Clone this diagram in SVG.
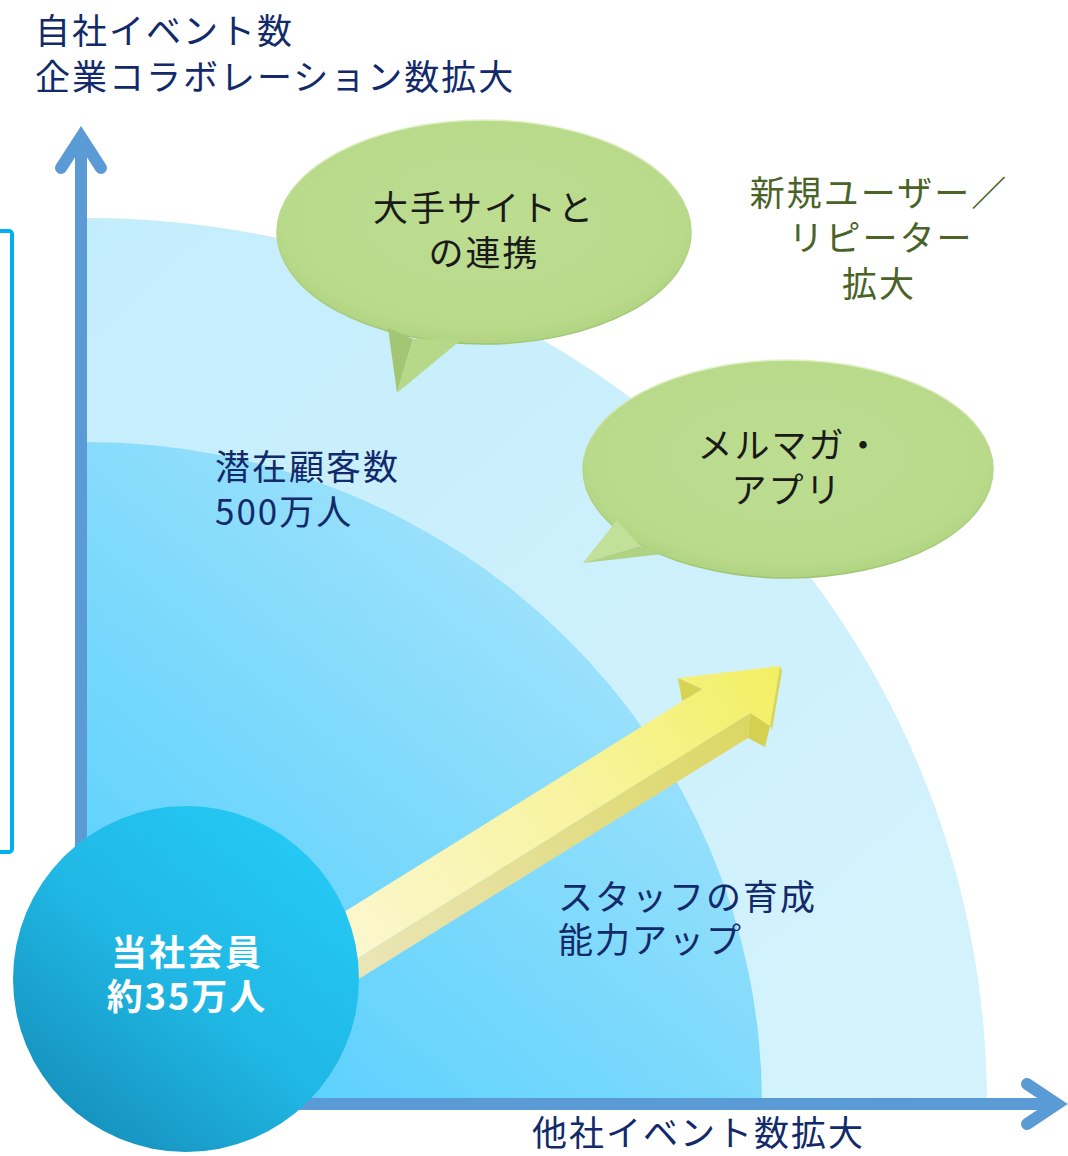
<svg xmlns="http://www.w3.org/2000/svg" width="1068" height="1156" viewBox="0 0 1068 1156">
<defs>
<linearGradient id="gLarge" gradientUnits="userSpaceOnUse" x1="87" y1="218" x2="900" y2="1104">
<stop offset="0" stop-color="#c4edfc"/><stop offset="1" stop-color="#d4f3fc"/>
</linearGradient>
<linearGradient id="gMed" gradientUnits="userSpaceOnUse" x1="100" y1="1100" x2="620" y2="480">
<stop offset="0" stop-color="#4ccdfd"/><stop offset="1" stop-color="#ace5fb"/>
</linearGradient>
<linearGradient id="gCircle" x1="0.85" y1="0.1" x2="0.15" y2="0.95">
<stop offset="0" stop-color="#24c9f4"/><stop offset="0.5" stop-color="#20b7e4"/><stop offset="1" stop-color="#158fba"/>
</linearGradient>
<radialGradient id="gBubble" cx="0.5" cy="0.45" r="0.6">
<stop offset="0" stop-color="#bddd91"/><stop offset="0.8" stop-color="#b8da8a"/><stop offset="1" stop-color="#abcf7d"/>
</radialGradient>
<linearGradient id="gRim" x1="0" y1="0" x2="0" y2="1">
<stop offset="0" stop-color="#e2f2c6"/><stop offset="0.5" stop-color="#b4d787"/><stop offset="1" stop-color="#a0c471"/>
</linearGradient>
<linearGradient id="gTop" gradientUnits="userSpaceOnUse" x1="330" y1="960" x2="780" y2="670">
<stop offset="0" stop-color="#fbf7d2"/><stop offset="0.6" stop-color="#f7f39a"/><stop offset="1" stop-color="#f3ef62"/>
</linearGradient>
<linearGradient id="gSide" gradientUnits="userSpaceOnUse" x1="330" y1="990" x2="760" y2="730">
<stop offset="0" stop-color="#ebe6bd"/><stop offset="1" stop-color="#dcd762"/>
</linearGradient>
<style>
.axis{fill:none;stroke:#5b9bd5;stroke-width:12;stroke-linecap:round;stroke-linejoin:miter}
.navy{font-family:"Noto Sans CJK JP","Noto Sans",sans-serif;font-size:35px;fill:#132a6a;letter-spacing:2px}
.green{font-family:"Noto Sans CJK JP","Noto Sans",sans-serif;font-size:35px;fill:#4a6326;letter-spacing:2px;text-anchor:middle}
.blk{font-family:"Noto Sans CJK JP","Noto Sans",sans-serif;font-size:35px;fill:#1a1a1a;letter-spacing:2px;text-anchor:middle}
.wht{font-family:"Noto Sans CJK JP","Noto Sans",sans-serif;font-size:36px;font-weight:700;fill:#ffffff;letter-spacing:2px;text-anchor:middle}
.bub{fill:url(#gBubble);stroke:url(#gRim);stroke-width:1.5}
</style>
</defs>
<rect width="1068" height="1156" fill="#ffffff"/>

<g id="regions">
<path id="region-large" d="M87,1104 L87,218 A900,886 0 0 1 987,1104 Z" fill="url(#gLarge)"/>
<path id="region-medium" d="M87,1104 L87,442 A675,662 0 0 1 762,1104 Z" fill="url(#gMed)"/>
</g>

<rect id="frame" x="-20" y="231" width="32" height="621" rx="3" fill="none" stroke="#00b0f0" stroke-width="4"/>

<g id="axes">
<line class="axis" x1="81" y1="140" x2="81" y2="1104" stroke-linecap="butt"/>
<polyline class="axis" points="61,168 81,137 101,168"/>
<line class="axis" x1="81" y1="1104" x2="1050" y2="1104" stroke-linecap="butt"/>
<polyline class="axis" points="1027,1084 1057,1104 1027,1124"/>
</g>

<g id="axis-labels">
<text class="navy" x="35" y="44">自社イベント数</text>
<text class="navy" x="35" y="90">企業コラボレーション数拡大</text>
<text class="navy" x="532" y="1146">他社イベント数拡大</text>
</g>

<g id="connectors">
<g id="growth-arrow">
<polygon points="320,982 750,713 748,738 320,1003" fill="url(#gSide)"/>
<polygon points="320,927 702,689 678,678 780,666 770,726 750,713 320,982" fill="url(#gTop)"/>
<polygon points="678,678 702,689 691,696 682,701" fill="#d8d453"/>
<polygon points="750,713 770,726 765,747 748,738" fill="#d5d04f"/>
<polygon points="780,666 782,671 772,730 770,726" fill="#d9d55a"/>
</g>
</g>

<g id="label-potential">
<text class="navy" x="215" y="480">潜在顧客数</text>
<text class="navy" x="215" y="525">500万人</text>
</g>

<g id="label-staff">
<text class="navy" x="558" y="910">スタッフの育成</text>
<text class="navy" x="558" y="953">能力アップ</text>
</g>

<g id="label-new-users">
<text class="green" x="879" y="206">新規ユーザー／</text>
<text class="green" x="881" y="251">リピーター</text>
<text class="green" x="879" y="297">拡大</text>
</g>

<g id="bubble-sites">
<ellipse class="bub" cx="484" cy="232" rx="207" ry="112"/>
<polygon points="388,328 397,393 413,339" fill="#a3c675"/>
<polygon points="413,339 397,393 461,340" fill="#b6d989"/>
<text class="blk" x="484" y="221">大手サイトと</text>
<text class="blk" x="484" y="266">の連携</text>
</g>

<g id="bubble-mail">
<ellipse class="bub" cx="788" cy="469" rx="205" ry="109"/>
<polygon points="617,520 583,563 640,546" fill="#c2e098"/>
<polygon points="640,546 583,563 672,553" fill="#afd382"/>
<text class="blk" x="790" y="458">メルマガ・</text>
<text class="blk" x="787" y="503">アプリ</text>
</g>

<g id="members">
<circle cx="186" cy="979" r="173" fill="url(#gCircle)"/>
<text class="wht" x="187" y="966">当社会員</text>
<text class="wht" x="187" y="1010">約35万人</text>
</g>
</svg>
